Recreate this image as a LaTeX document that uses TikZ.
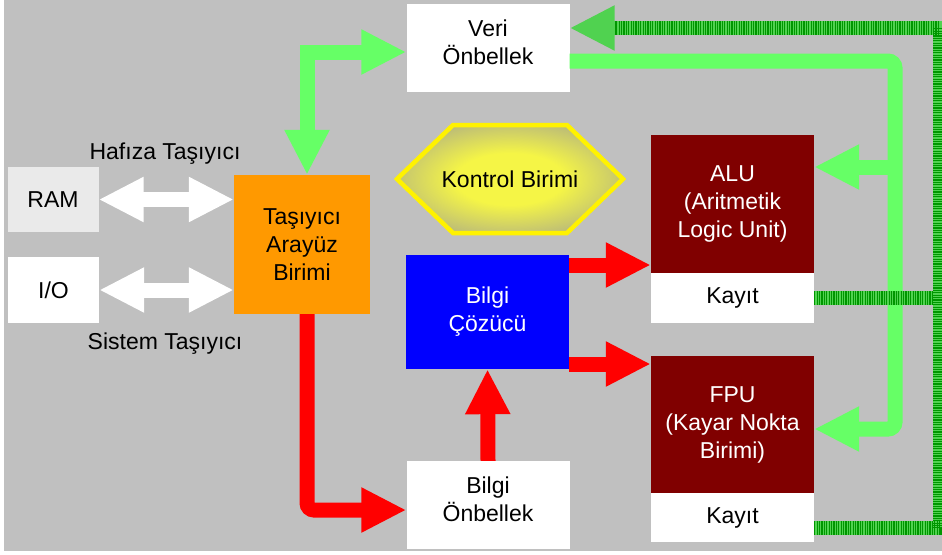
\documentclass[tikz,border=0pt]{standalone}
\usepackage{fontspec}
\setmainfont{Liberation Sans}
\usetikzlibrary{arrows.meta}
\definecolor{bggray}{RGB}{192,192,192}
\definecolor{ramgray}{RGB}{234,234,234}
\definecolor{tiaorange}{RGB}{255,153,0}
\definecolor{unitred}{RGB}{128,0,0}
\definecolor{decblue}{RGB}{0,0,255}
\definecolor{busgreen}{RGB}{102,255,102}
\definecolor{hatchdark}{RGB}{0,150,0}
\definecolor{hatchmid}{RGB}{80,210,80}
\definecolor{kyellow}{RGB}{245,245,70}
\definecolor{kgray}{RGB}{155,155,148}
\pgfdeclareradialshading{kontrolglow}{\pgfpoint{0bp}{0bp}}{color(0bp)=(kyellow); color(12bp)=(kyellow); color(36bp)=(kgray); color(50bp)=(kgray)}
\begin{document}
\begin{tikzpicture}[x=1pt,y=-1pt,
  every node/.style={font=\fontsize{23}{28}\selectfont,align=center,inner sep=0pt},
  box/.style={rectangle,minimum width=163pt},
  wbox/.style={box,fill=white,minimum height=88pt},
  garrow/.style={busgreen,line width=15pt,-{Triangle[length=45pt,width=42pt]}},
  rarrow/.style={red,line width=15pt,-{Triangle[length=45pt,width=42pt]}},
  warrow/.style={white,line width=15pt,{Triangle[length=45pt,width=42pt]}-{Triangle[length=45pt,width=42pt]}},
  hatchline/.style={hatchmid,line width=14pt,line join=miter,
    postaction={draw,hatchdark,line width=14pt,dash pattern=on 1.2pt off 1.2pt}},
  hatcharrow/.style={hatchmid,line width=14pt,line join=miter,-{Triangle[length=45pt,width=42pt]},
    postaction={draw,-,hatchdark,line width=14pt,dash pattern=on 1.2pt off 1.2pt,shorten >=45pt}}]
\useasboundingbox (0,0) rectangle (942,554);
\fill[bggray] (4,0) rectangle (942,551);

% blocks
\node[wbox] (veri) at (488,48) {Veri\\Önbellek\\[-17pt]};
\node[wbox] (bo) at (488,505) {Bilgi\\Önbellek\\[-17pt]};
\node[box,fill=decblue,text=white,minimum height=114pt] (bc) at (487.5,312) {Bilgi\\Çözücü};
\node[box,fill=tiaorange,minimum width=136pt,minimum height=139pt] (tia) at (302,244.5) {Taşıyıcı\\Arayüz\\Birimi};
\node[box,fill=ramgray,minimum width=91pt,minimum height=65pt] (ram) at (53,199.5) {RAM};
\node[box,fill=white,minimum width=91pt,minimum height=66pt] (io) at (53.5,290) {I/O};
\node[box,fill=unitred,text=white,minimum height=138pt] (alu) at (732.5,204) {ALU\\(Aritmetik\\Logic Unit)};
\node[box,fill=white,minimum height=50pt] (kayit1) at (732.5,298) {Kayıt};
\node[box,fill=unitred,text=white,minimum height=137pt] (fpu) at (732.5,424.5) {FPU\\(Kayar Nokta\\Birimi)};
\node[box,fill=white,minimum height=49pt] (kayit2) at (732.5,517.5) {Kayıt};

% kontrol birimi
\shade[shading=kontrolglow] (397,179) -- (453,125) -- (567,125) -- (623,179) -- (567,233) -- (453,233) -- cycle;
\draw[yellow,line width=4.5pt,line join=miter] (397,179) -- (453,125) -- (567,125) -- (623,179) -- (567,233) -- (453,233) -- cycle;
\node (kontrol) at (510,179) {Kontrol Birimi};

% bus labels
\node (hafiza) at (165,154) {Hafıza Taşıyıcı};
\node (sistem) at (165,344) {Sistem Taşıyıcı};

% buses
\draw[warrow] (ram.east) -- (tia.west |- ram.east);
\draw[warrow] (io.east) -- (tia.west |- io.east);
\draw[garrow,{Triangle[length=45pt,width=42pt]}-{Triangle[length=45pt,width=42pt]}] ([xshift=5pt]tia.north) |- ([yshift=-4pt]veri.west);
\coordinate (gbus) at (895,61);
\draw[garrow,rounded corners=7pt] (veri.east |- gbus) -- (gbus) |- ([yshift=-4.5pt]fpu.east);
\draw[garrow] (gbus |- 0,167) -- (alu.east |- 0,167);
\draw[rarrow,rounded corners=7pt] ([xshift=5pt]tia.south) |- ([yshift=-5pt]bo.west);
\draw[rarrow] (bo.north) -- (bc.south);
\draw[rarrow] (bc.east |- 0,265) -- (alu.west |- 0,265);
\draw[rarrow] (bc.east |- 0,364) -- (fpu.west |- 0,364);
\coordinate (hbus) at (940,28);
\draw[hatchline] (kayit1.east) -- (hbus |- kayit1.east);
\draw[hatcharrow] ([yshift=-10pt]kayit2.east) -| (hbus) -- (veri.east |- hbus);
\end{tikzpicture}
\end{document}
